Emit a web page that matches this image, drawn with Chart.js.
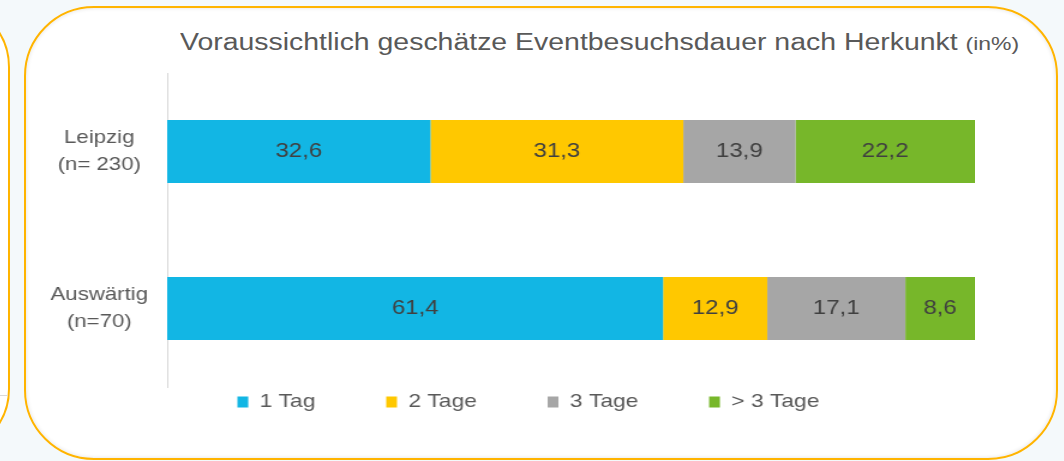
<!DOCTYPE html>
<html lang="de">
<head>
<meta charset="UTF-8">
<title>Eventbesuchsdauer nach Herkunft</title>
<script src="https://cdn.jsdelivr.net/npm/chart.js"></script>
<style>
  html, body { margin: 0; padding: 0; }
  body {
    width: 1064px;
    height: 461px;
    background: #f4f9fb;
    position: relative;
    overflow: hidden;
    font-family: 'Liberation Sans', Arial, sans-serif;
  }
  .prev-box {
    position: absolute;
    left: -300px;
    top: 1px;
    width: 310px;
    height: 454px;
    box-sizing: border-box;
    border: 2px solid #ffb400;
    border-radius: 66px;
    background: #fff;
  }
  .prev-axis {
    position: absolute;
    left: 0;
    top: 395px;
    width: 8px;
    height: 1px;
    background: #d9d9d9;
  }
  .box {
    position: absolute;
    left: 24px;
    top: 6px;
    width: 1034px;
    height: 454px;
    box-sizing: border-box;
    border: 2px solid #ffb400;
    border-radius: 70px;
    background: #fff;
    box-shadow: inset 0 0 4px rgba(0, 0, 0, 0.12);
  }
  .title {
    position: absolute;
    left: 180px;
    top: 31px;
    white-space: nowrap;
    font-size: 23.5px;
    line-height: 1;
    color: #595959;
    transform: scaleX(1.21);
    transform-origin: 0 0;
  }
  .title small { font-size: 19px; }
  #chart {
    position: absolute;
    left: 40px;
    top: 23px;
    transform: scaleX(1.2);
    transform-origin: 0 0;
  }
</style>
</head>
<body>
<div class="prev-box"></div>
<div class="prev-axis"></div>
<div class="box"></div>
<div class="title">Voraussichtlich geschätze Eventbesuchsdauer nach Herkunkt <small>(in%)</small></div>
<canvas id="chart" width="779" height="424"></canvas>

<script>
// Daten (Anteile in %)
const categories = [['Leipzig', '(n= 230)'], ['Auswärtig', '(n=70)']];
const seriesLabels = ['1 Tag', '2 Tage', '3 Tage', '> 3 Tage'];
const einTag = [32.6, 61.4];
const zweiTage = [31.3, 12.9];
const dreiTage = [13.9, 17.1];
const mehrTage = [22.2, 8.6];
const seriesColors = ['#12b6e4', '#ffc800', '#a6a6a6', '#77b72a'];

Chart.defaults.font.family = "'Liberation Sans', Arial, sans-serif";
Chart.defaults.color = '#595959';

// Werte mittig in die Balken schreiben
const valueLabels = {
  id: 'valueLabels',
  afterDatasetsDraw(chart) {
    const ctx = chart.ctx;
    ctx.save();
    ctx.font = "20px 'Liberation Sans', Arial, sans-serif";
    ctx.fillStyle = '#404040';
    ctx.textAlign = 'center';
    ctx.textBaseline = 'middle';
    chart.data.datasets.forEach((ds, i) => {
      chart.getDatasetMeta(i).data.forEach((bar, j) => {
        const p = bar.getCenterPoint();
        ctx.fillText(ds.data[j].toFixed(1).replace('.', ','), p.x, p.y);
      });
    });
    ctx.restore();
  }
};

// Legende unter die Achse setzen (labels.padding gilt sonst auch vertikal)
const legendY = 379;
const legendX = 407;
const legendLift = {
  id: 'legendLift',
  afterLayout(chart) {
    const lg = chart.legend;
    const pad = lg.options.labels.padding;
    const fs = lg.options.labels.font.size;
    lg.top = legendY - pad - fs / 2;
    lg.bottom = legendY + fs;
    lg.height = lg.bottom - lg.top;
    const shift = legendX - (lg.left + lg.right) / 2;
    lg.left += shift;
    lg.right += shift;
  }
};

const values = [einTag, zweiTage, dreiTage, mehrTage];

new Chart(document.getElementById('chart'), {
  type: 'bar',
  data: {
    labels: categories,
    datasets: values.map((d, i) => ({
      label: seriesLabels[i],
      data: d,
      backgroundColor: seriesColors[i],
      barPercentage: 0.4,
      categoryPercentage: 1
    }))
  },
  options: {
    indexAxis: 'y',
    responsive: false,
    animation: false,
    layout: { padding: { left: 0, right: 0, top: 50, bottom: 0 } },
    plugins: {
      tooltip: { enabled: false },
      legend: {
        position: 'bottom',
        maxHeight: 60,
        labels: {
          color: '#595959',
          font: { size: 19 },
          boxWidth: 9,
          boxHeight: 11,
          padding: 59
        }
      }
    },
    scales: {
      x: { stacked: true, min: 0, max: 100, display: false },
      y: {
        stacked: true,
        grid: { display: false, drawTicks: false },
        border: { display: true, color: '#d9d9d9', width: 1 },
        ticks: {
          color: '#595959',
          font: { size: 18.5, lineHeight: 1.46 },
          padding: 16,
          crossAlign: 'center'
        },
        afterFit(scale) { scale.width = 106; }
      }
    }
  },
  plugins: [valueLabels, legendLift]
});
</script>
</body>
</html>
